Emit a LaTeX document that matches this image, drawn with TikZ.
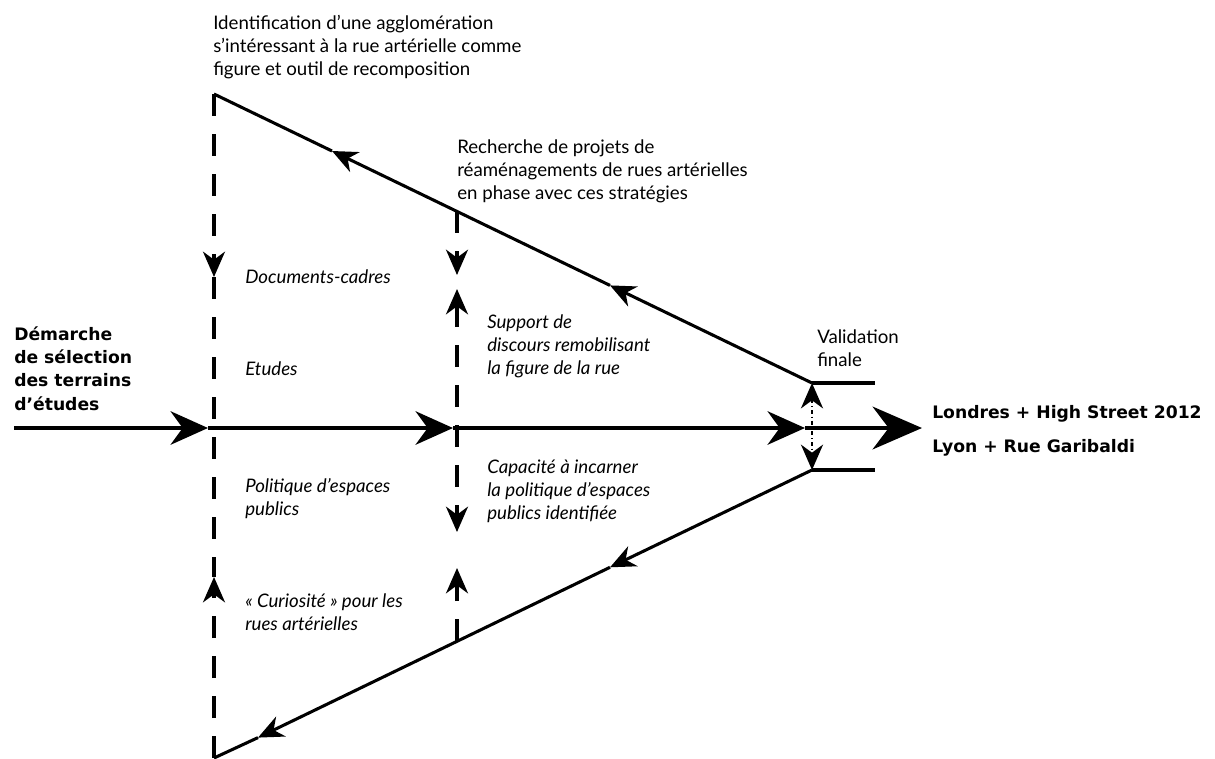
\documentclass[tikz,border=0pt]{standalone}
\usepackage{fontspec}
\setmainfont{Lato}
\newfontfamily\heavyfont{DejaVu Sans}
\usetikzlibrary{arrows.meta}
\newcommand\txtlines[1]{\begin{tabular}[t]{@{}l@{}}#1\end{tabular}}
\begin{document}
\begin{tikzpicture}[x=0.75pt,y=-0.75pt,
  axisline/.style={line width=3.4pt},
  ray/.style={line width=2.3pt},
  dashline/.style={line width=2.3pt, dash pattern=on 16.5pt off 13.5pt},
  validline/.style={line width=2pt, dash pattern=on 3pt off 2pt on 1pt off 2pt},
  bigtip/.style={-{Stealth[length=28pt,width=25pt,inset=9pt]}},
  hugetip/.style={-{Stealth[length=37pt,width=32pt,inset=12pt]}},
  smalltip/.style={-{Stealth[length=19pt,width=16.5pt,inset=6pt]}},
  bothtips/.style={{Stealth[length=19pt,width=16.5pt,inset=6pt]}-{Stealth[length=19pt,width=16.5pt,inset=6pt]}},
  txt/.style={inner sep=0pt, anchor=base west, font=\fontsize{14}{17.5}\selectfont},
  ittxt/.style={inner sep=0pt, anchor=base west, font=\fontsize{14}{17.5}\selectfont\itshape},
  boldtxt/.style={inner sep=0pt, anchor=base west, font=\heavyfont\bfseries\fontsize{12.9}{17.5}\selectfont},
  boldtxtR/.style={inner sep=0pt, anchor=base west, font=\heavyfont\bfseries\fontsize{12.9}{25.5}\selectfont}
]
\useasboundingbox (0,0) rectangle (1215,758);

% coordinates
\coordinate (T) at (214,94);
\coordinate (B) at (214,758);
\coordinate (VU) at (812,383);
\coordinate (VD) at (812,470);
\coordinate (SU) at (875,383);
\coordinate (SD) at (875,470);
\coordinate (ta1) at (332,151);
\coordinate (ta2) at (610,285.4);
\coordinate (ba1) at (610,567.3);
\coordinate (ba2) at (258,737.6);
\coordinate (S) at (14,428);
\coordinate (m1) at (208,428);
\coordinate (m2) at (453,428);
\coordinate (m3) at (805,428);
\coordinate (E) at (922,428);
\coordinate (C2T) at (457,211.4);
\coordinate (C2B) at (457,641);
\coordinate (c1d) at (214,277);
\coordinate (c1u) at (214,577);
\coordinate (c2d1) at (457,275);
\coordinate (c2u1) at (457,289);
\coordinate (c2d2) at (457,532);
\coordinate (c2u2) at (457,568);

% funnel
\draw[ray] (VU) -- (SU);
\draw[ray] (VD) -- (SD);
\draw[ray, smalltip] (VU) -- (ta2);
\draw[ray, smalltip] (ta2) -- (ta1);
\draw[ray] (ta1) -- (T);
\draw[ray, smalltip] (VD) -- (ba1);
\draw[ray, smalltip] (ba1) -- (ba2);
\draw[ray] (ba2) -- (B);

% dashed columns
\draw[dashline, smalltip] (T) -- (c1d);
\draw[dashline] (c1d) -- (c1u);
\draw[dashline, smalltip] (B) -- (c1u);
\draw[dashline, smalltip] (C2T) -- (c2d1);
\draw[dashline, bothtips] (c2u1) -- (c2d2);
\draw[dashline, smalltip] (C2B) -- (c2u2);

% validation
\draw[validline, bothtips] (VU) -- (VD);

% main axis
\draw[axisline, bigtip] (S) -- (m1);
\draw[axisline, bigtip] (m1) -- (m2);
\draw[axisline, bigtip] (m2) -- (m3);
\draw[axisline, hugetip] (m3) -- (E);

% texts
\node[txt] (ident) at (213,29) {\txtlines{Identification d’une agglomération\\ s’intéressant à la rue artérielle comme\\ figure et outil de recomposition}};
\node[txt] (rech) at (457,153) {\txtlines{Recherche de projets de\\ réaménagements de rues artérielles\\ en phase avec ces stratégies}};
\node[txt] (valid) at (817,343) {\txtlines{Validation\\ finale}};
\node[ittxt] (docs) at (245,283) {Documents-cadres};
\node[ittxt] (etudes) at (245,375) {Etudes};
\node[ittxt] (polit) at (245,492) {\txtlines{Politique d’espaces\\ publics}};
\node[ittxt] (curio) at (245,607) {\txtlines{« Curiosité » pour les\\ rues artérielles}};
\node[ittxt] (supp) at (487,328) {\txtlines{Support de\\ discours remobilisant\\ la figure de la rue}};
\node[ittxt] (capa) at (487,473) {\txtlines{Capacité à incarner\\ la politique d’espaces\\ publics identifiée}};
\node[boldtxt] (dem) at (14,340) {\txtlines{Démarche\\ de sélection\\ des terrains\\ d’études}};
\node[boldtxtR] (res) at (932,418) {\txtlines{Londres + High Street 2012\\ Lyon + Rue Garibaldi}};
\end{tikzpicture}
\end{document}
